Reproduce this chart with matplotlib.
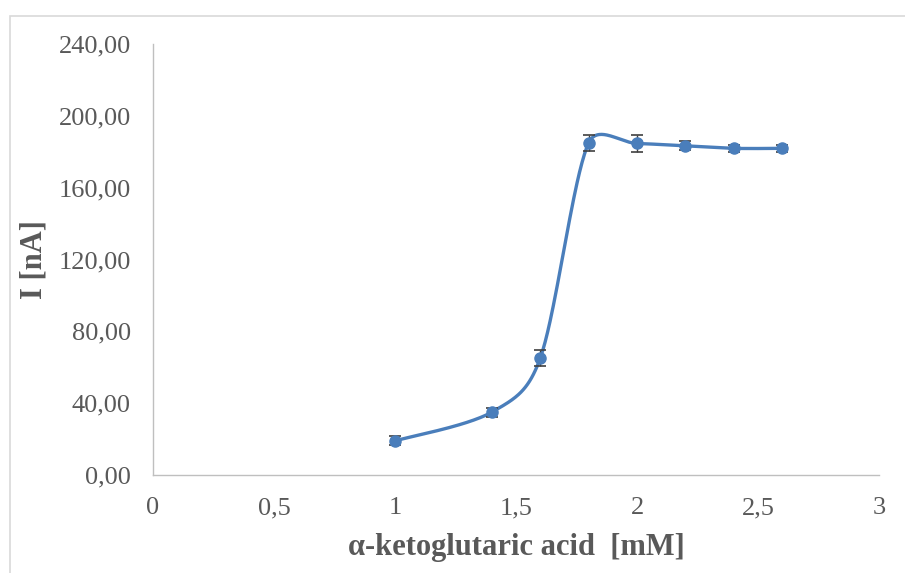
import numpy as np
import matplotlib.pyplot as plt
from matplotlib.ticker import FuncFormatter
from matplotlib.patches import Rectangle

# Data
conc = [1.0, 1.4, 1.6, 1.8, 2.0, 2.2, 2.4, 2.6]
current = [19.0, 35.0, 65.0, 184.9, 184.6, 183.3, 181.9, 181.9]
err = [2.5, 2.5, 4.5, 4.5, 4.5, 2.5, 2.0, 2.0]

x_ticks = [0, 0.5, 1, 1.5, 2, 2.5, 3]
y_ticks = [0, 40, 80, 120, 160, 200, 240]

blue = '#4a7ebb'
grey_txt = '#595959'


def smooth_line(ax, xs, ys, n=60):
    # Bezier smoothing through the points, done in screen space
    to_px = ax.transData
    p = to_px.transform(np.column_stack([xs, ys]))
    out = [p[:1]]
    for i in range(len(p) - 1):
        p0 = p[i - 1] if i > 0 else p[i]
        p3 = p[i + 2] if i + 2 < len(p) else p[i + 1]
        d_prev = np.linalg.norm(p[i] - p0)
        d_cur = np.linalg.norm(p[i + 1] - p[i])
        d_next = np.linalg.norm(p3 - p[i + 1])
        f1 = d_cur / (d_prev + d_cur) / 2.0 if d_prev > 0 else 1 / 6.0
        f2 = d_cur / (d_cur + d_next) / 2.0 if d_next > 0 else 1 / 6.0
        c1 = p[i] + (p[i + 1] - p0) * min(f1, 1 / 6.0)
        c2 = p[i + 1] - (p3 - p[i]) * min(f2, 1 / 6.0)
        t = np.linspace(0, 1, n)[1:, None]
        seg = ((1 - t) ** 3 * p[i] + 3 * (1 - t) ** 2 * t * c1
               + 3 * (1 - t) * t ** 2 * c2 + t ** 3 * p[i + 1])
        out.append(seg)
    out = to_px.inverted().transform(np.vstack(out))
    return out[:, 0], out[:, 1]


plt.rcParams['font.family'] = ['Liberation Serif', 'DejaVu Serif']

fig = plt.figure(figsize=(9.05, 5.73), dpi=100)
# light chart-area border (left and top edges only are in view)
fig.patches.append(Rectangle((10 / 905, -0.1), 1.2, 1.1 - 16 / 573,
                             transform=fig.transFigure, fill=False,
                             edgecolor='#d9d9d9', lw=1.2))
ax = fig.add_axes([153 / 905, 98 / 573, 726 / 905, 431 / 573])
ax.set_xlim(0, 3)
ax.set_ylim(0, 240)

sx, sy = smooth_line(ax, conc, current)
ax.plot(sx, sy, color=blue, lw=2.4, zorder=2)
ax.errorbar(conc, current, yerr=err, fmt='none', ecolor='#404040',
            elinewidth=1.0, capsize=4, capthick=1.2, zorder=3)
ax.plot(conc, current, 'o', color=blue, ms=8, zorder=4)

ax.set_xticks(x_ticks)
ax.set_yticks(y_ticks)
ax.xaxis.set_major_formatter(FuncFormatter(lambda v, p: ('%g' % v).replace('.', ',')))
ax.yaxis.set_major_formatter(FuncFormatter(lambda v, p: ('%.2f' % v).replace('.', ',')))
ax.tick_params(axis='both', length=0, labelsize=19, colors=grey_txt)
ax.tick_params(axis='y', pad=16)
ax.tick_params(axis='x', pad=16)

for s in ['top', 'right']:
    ax.spines[s].set_visible(False)
for s in ['left', 'bottom']:
    ax.spines[s].set_color('#bfbfbf')
    ax.spines[s].set_linewidth(1.0)

ax.set_xlabel('α-ketoglutaric acid  [mM]', fontsize=22, fontweight='bold',
              color=grey_txt, labelpad=10)
ax.set_ylabel('I [nA]', fontsize=22, fontweight='bold', color=grey_txt,
              labelpad=7)

fig.savefig('out.png', dpi=100, facecolor='white')
